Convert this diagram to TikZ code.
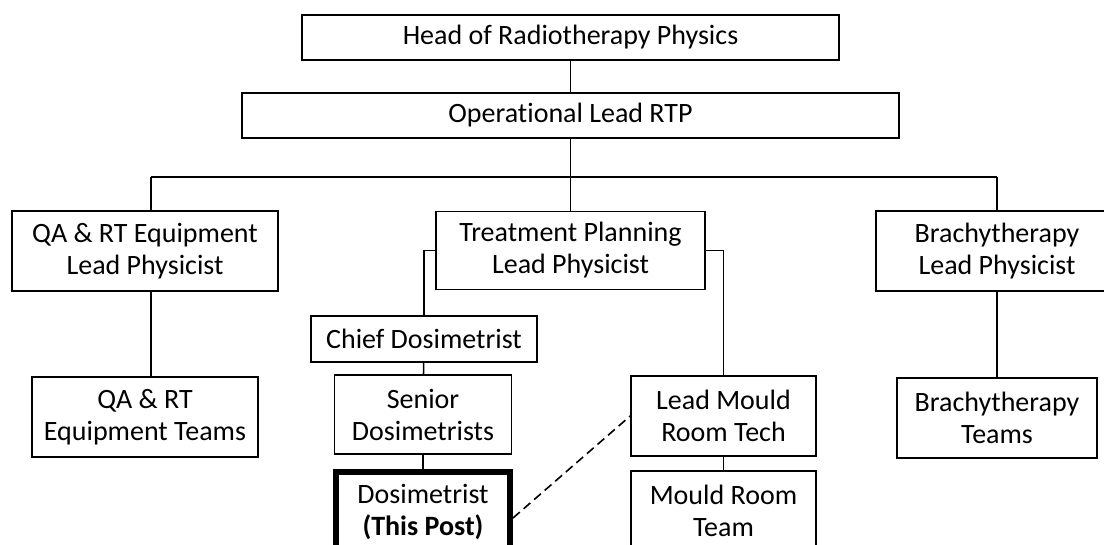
\documentclass[tikz,border=0pt]{standalone}
\usepackage{fontspec}
\setmainfont{Carlito}[Ligatures=NoCommon]
\usepackage{tikz}

\begin{document}
\begin{tikzpicture}[
    x=1pt, y=-1pt,
    role/.style={rectangle, draw, line width=1.6pt, align=center, inner sep=0pt, font=\fontsize{28}{32}\selectfont},
    post/.style={role, line width=6pt},
    link/.style={line width=1.6pt},
    dotted link/.style={link, dash pattern=on 9pt off 5pt}
]
    \useasboundingbox (0,0) rectangle (1104,545);
    \clip (0,0) rectangle (1104,545);

    % Top of the chart
    \node[role, minimum width=537pt, minimum height=45pt] (head) at (570.5,37.5) {Head of Radiotherapy Physics};
    \node[role, minimum width=657pt, minimum height=45pt] (oper) at (570.5,115.5) {Operational Lead RTP};

    % Lead physicists
    \node[role, minimum width=266pt, minimum height=80pt] (qa) at (145,251) {QA \& RT Equipment\\Lead Physicist};
    \node[role, minimum width=269pt, minimum height=78pt] (tp) at (570.5,250.5) {Treatment Planning\\Lead Physicist};
    \node[role, minimum width=242pt, minimum height=80pt] (brachy) at (997,251) {Brachytherapy\\Lead Physicist};

    % Teams
    \node[role, minimum width=226pt, minimum height=80pt] (qateam) at (145,417) {QA \& RT\\Equipment Teams};
    \node[role, minimum width=200pt, minimum height=80pt] (brachyteam) at (997,418) {Brachytherapy\\Teams};

    % Planning branch
    \node[role, minimum width=226pt, minimum height=46pt] (chief) at (424,339) {Chief Dosimetrist};
    \node[role, minimum width=177pt, minimum height=79pt] (senior) at (423,414.5) {Senior\\Dosimetrists};
    \node[post, minimum width=174pt, minimum height=80pt] (dosi) at (423,512) {Dosimetrist\\\textbf{(This Post)}};
    \node[role, minimum width=185pt, minimum height=80pt] (leadm) at (723.5,416) {Lead Mould\\Room Tech};
    \node[role, minimum width=185pt, minimum height=80pt] (mould) at (723.5,511) {Mould Room\\Team};

    % Bar under the operational lead
    \coordinate (barL) at (151,177);
    \coordinate (barR) at (997,177);

    % Lines
    \draw[link] (head) -- (oper);
    \draw[link] (oper) -- (tp);
    \draw[link] (barL) -- (barR);
    \draw[link] (barL) -- (barL |- qa.north);
    \draw[link] (barR) -- (brachy);
    \draw[link] (barL |- qa.south) -- (barL |- qateam.north);
    \draw[link] (brachy) -- (brachyteam);
    \draw[link] (tp.west) -| (chief.north);
    \draw[link] (tp.east) -| (leadm.north);
    \draw[link] (chief) -- (senior);
    \draw[link] (senior) -- (dosi);
    \draw[link] (leadm) -- (mould);
    \draw[dotted link] ([yshift=-6pt]dosi.east) -- (leadm.west);

\end{tikzpicture}
\end{document}
